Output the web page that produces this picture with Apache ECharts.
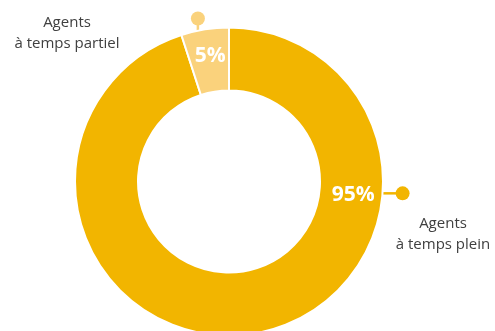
<!DOCTYPE html>
<html><head><meta charset="utf-8">
<script src="https://cdn.jsdelivr.net/npm/echarts@6/dist/echarts.min.js"></script>
<style>html,body{margin:0;padding:0;background:#fff}#c{width:495px;height:331px}</style>
</head><body><div id="c"></div>
<script>
const categories = ['Agents\nà temps plein', 'Agents\nà temps partiel'];
const values = [95, 5];
const pctLabels = ['95%', '5%'];
const colors = ['#F2B500', '#FAD27C'];

const CX = 229, CY = 181.5, R0 = 91, R1 = 154;
function polar(a, r) { const t = a * Math.PI / 180; return [CX + r * Math.sin(t), CY - r * Math.cos(t)]; }

// label placement (angle from top clockwise, radius)
const inLab = [[96.2, 125], [-8.5, 126.5]];
const dots = [[93.9, 174], [-10.8, 166]];
const outText = [[443, 234.5], [67, 33]];

const chart = echarts.init(document.getElementById('c'), null, {renderer: 'canvas'});
const graphic = [];
dots.forEach((d, i) => {
  const p = polar(d[0], d[1]);
  let q;
  if (i === 0) q = [CX + R1 - 2, p[1]]; else q = [p[0], CY - Math.sqrt(R1 * R1 - (p[0] - CX) ** 2) + 2];
  graphic.push({type: 'line', shape: {x1: p[0], y1: p[1], x2: q[0], y2: q[1]}, style: {stroke: colors[i], lineWidth: 2.5}, z: 1});
  graphic.push({type: 'circle', shape: {cx: p[0], cy: p[1], r: 7}, style: {fill: colors[i]}, z: 1});
});
inLab.forEach((l, i) => {
  const p = polar(l[0], l[1]);
  graphic.push({type: 'text', x: p[0], y: p[1], z: 10, style: {text: pctLabels[i], fill: '#fff', font: 'bold 21px "Open Sans"', align: 'center', verticalAlign: 'middle'}});
});
outText.forEach((t, i) => {
  graphic.push({type: 'text', x: t[0], y: t[1], style: {text: categories[i], fill: '#404040', font: '15px "Open Sans"', align: 'center', verticalAlign: 'middle', lineHeight: 21}});
});

chart.setOption({
  animation: false,
  graphic: graphic,
  series: [{
    type: 'pie',
    center: [CX, CY],
    radius: [R0, R1],
    startAngle: 90,
    clockwise: true,
    label: {show: false},
    labelLine: {show: false},
    emphasis: {disabled: true},
    itemStyle: {borderColor: '#fff', borderWidth: 2},
    data: values.map((v, i) => ({name: categories[i], value: v, itemStyle: {color: colors[i]}}))
  }]
});
</script></body></html>
